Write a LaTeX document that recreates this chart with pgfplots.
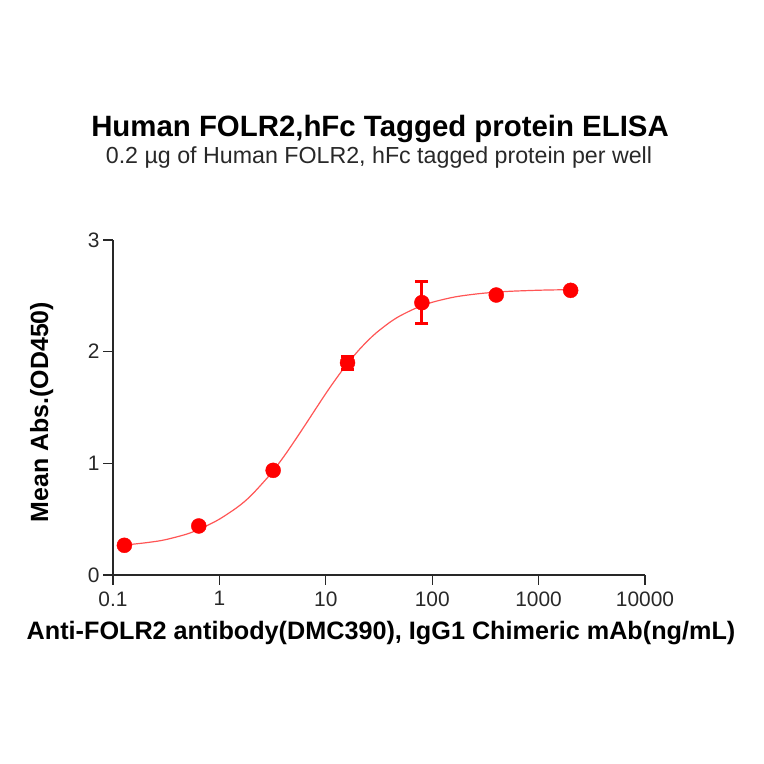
\documentclass[border=0pt]{standalone}
\usepackage{pgfplots}
\pgfplotsset{compat=1.18}
\usepackage{fontspec}
\setmainfont{Liberation Sans}
\definecolor{dotred}{RGB}{255,0,0}
\definecolor{fitred}{RGB}{255,85,85}
\definecolor{tickgray}{RGB}{40,40,40}
\begin{document}
\begin{tikzpicture}[x=1bp,y=1bp]
\path[use as bounding box] (0,0) rectangle (764,764);
\node[anchor=base,font=\fontsize{29.5}{33}\selectfont\bfseries] at (380,627) {Human FOLR2,hFc Tagged protein ELISA};
\node[anchor=base,font=\fontsize{23.3}{27}\selectfont,text=tickgray] at (379,600) {0.2 µg of Human FOLR2, hFc tagged protein per well};
\node[anchor=base,font=\fontsize{25.3}{28}\selectfont\bfseries] at (381,124) {Anti-FOLR2 antibody(DMC390), IgG1 Chimeric mAb(ng/mL)};
\node[anchor=base,rotate=90,font=\fontsize{25}{28}\selectfont\bfseries] at (48,352) {Mean Abs.(OD450)};
\begin{axis}[
    at={(113bp,189bp)},
    anchor=south west,
    scale only axis,
    width=532bp,
    height=335bp,
    xmode=log,
    xmin=0.1, xmax=10000,
    ymin=0, ymax=3,
    axis x line*=bottom,
    axis y line*=left,
    axis line style={line width=1.3bp,tickgray},
    xtick={0.1,1,10,100,1000,10000},
    xticklabels={0.1,1,10,100,1000,10000},
    ytick={0,1,2,3},
    xminorticks=false,
    tick align=outside,
    major tick length=10bp,
    tick style={line width=1.3bp,tickgray},
    tick label style={font=\fontsize{21}{24}\selectfont,text=tickgray},
    xticklabel style={yshift=-3bp},
    /pgf/number format/assume math mode=true,
    clip=false,
    ]
% fitted curve
\addplot[fitred, line width=1.2bp, smooth] coordinates {
(0.128,0.268) (0.2,0.288) (0.3,0.313) (0.5,0.368) (0.7,0.425)
(1,0.500) (1.5,0.612) (2,0.715) (3,0.900) (4,1.056)
(5,1.190) (6,1.303) (7,1.400) (8,1.485) (10,1.625)
(12,1.734) (15,1.860) (20,2.004) (25,2.101) (30,2.171)
(40,2.263) (50,2.321) (70,2.389) (100,2.442) (150,2.483)
(200,2.503) (300,2.523) (500,2.539) (800,2.547) (1200,2.552)
(2000,2.555)
};
% measured means with error bars
\addplot[
    dotred, only marks,
    mark=*, mark size=7.5bp,
    mark options={fill=dotred,draw=dotred},
    error bars/.cd,
    y dir=both, y explicit,
    error bar style={line width=3bp,dotred},
    error mark options={rotate=90,mark size=6.5bp,line width=3bp,dotred},
] coordinates {
(0.128,0.266) +- (0,0.01)
(0.64,0.439) +- (0,0.01)
(3.2,0.937) +- (0,0.02)
(16,1.901) +- (0,0.06)
(80,2.439) +- (0,0.185)
(400,2.507) +- (0,0.02)
(2000,2.549) +- (0,0.01)
};
\end{axis}
\end{tikzpicture}
\end{document}
